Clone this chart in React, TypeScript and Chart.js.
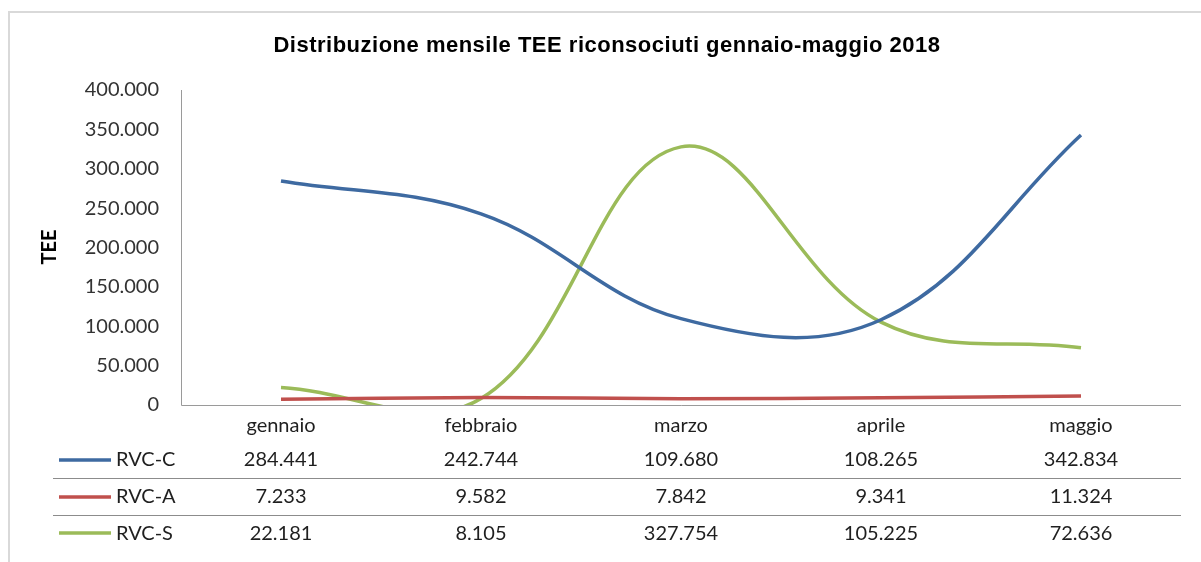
import React, { useEffect, useRef } from 'react';
import { Chart, registerables } from 'chart.js';

Chart.register(...registerables);

const title = 'Distribuzione mensile TEE riconsociuti gennaio-maggio 2018';
const yAxisTitle = 'TEE';
const categories = ['gennaio', 'febbraio', 'marzo', 'aprile', 'maggio'];
const seriesNames = ['RVC-C', 'RVC-A', 'RVC-S'];
const rvcC = [284441, 242744, 109680, 108265, 342834];
const rvcA = [7233, 9582, 7842, 9341, 11324];
const rvcS = [22181, 8105, 327754, 105225, 72636];
const seriesColors = ['#3e6aa1', '#c0504d', '#9bbb59'];
const yMin = 0;
const yMax = 400000;
const yStep = 50000;

const fmt = (v: number) => String(Math.round(v)).replace(/\B(?=(\d{3})+(?!\d))/g, '.');

export default function App() {
  const ref = useRef<HTMLCanvasElement>(null);

  useEffect(() => {
    const canvas = ref.current;
    if (!canvas) return;
    const allSeries = [rvcC, rvcA, rvcS];

    const decorPlugin = {
      id: 'excelDecor',
      afterDraw(chart: any) {
        const ctx = chart.ctx as CanvasRenderingContext2D;
        const xs = chart.scales.x;
        const area = chart.chartArea;
        ctx.save();

        // outer chart border
        ctx.strokeStyle = '#d9d9d9';
        ctx.lineWidth = 2;
        ctx.strokeRect(9, 12, 1400, 800);

        // title
        ctx.fillStyle = '#000';
        ctx.font = 'bold 22px "Liberation Sans", Arial, sans-serif';
        (ctx as any).letterSpacing = '0.5px';
        ctx.textAlign = 'center';
        ctx.textBaseline = 'alphabetic';
        ctx.fillText(title, 607, 52);
        (ctx as any).letterSpacing = '0px';

        // y axis title
        ctx.save();
        ctx.translate(50, 247);
        ctx.rotate(-Math.PI / 2);
        ctx.font = 'bold 20px Lato, sans-serif';
        ctx.fillStyle = '#000';
        ctx.textAlign = 'center';
        ctx.textBaseline = 'middle';
        ctx.fillText(yAxisTitle, 0, 0);
        ctx.restore();

        // axes
        ctx.strokeStyle = '#9a9a9a';
        ctx.lineWidth = 1;
        ctx.beginPath();
        ctx.moveTo(181.5, area.top);
        ctx.lineTo(181.5, area.bottom + 0.5);
        ctx.lineTo(area.right, area.bottom + 0.5);
        ctx.stroke();

        // table separators
        ctx.strokeStyle = '#8c8c8c';
        ctx.beginPath();
        ctx.moveTo(53, 478.5);
        ctx.lineTo(area.right, 478.5);
        ctx.moveTo(53, 515.5);
        ctx.lineTo(area.right, 515.5);
        ctx.stroke();

        // category labels
        ctx.font = '20px Lato, sans-serif';
        ctx.fillStyle = '#1f1f1f';
        ctx.textAlign = 'center';
        ctx.textBaseline = 'alphabetic';
        categories.forEach((c, i) => {
          ctx.fillText(c, xs.getPixelForValue(i), 432);
        });

        // rows
        const baselines = [466, 503, 540];
        const lineYs = [460, 497, 533];
        seriesNames.forEach((name, r) => {
          ctx.strokeStyle = seriesColors[r];
          ctx.lineWidth = 3.5;
          ctx.lineCap = 'butt';
          ctx.beginPath();
          ctx.moveTo(59, lineYs[r]);
          ctx.lineTo(111, lineYs[r]);
          ctx.stroke();
          ctx.fillStyle = '#1f1f1f';
          ctx.textAlign = 'left';
          ctx.fillText(name, 116, baselines[r]);
          ctx.textAlign = 'center';
          allSeries[r].forEach((v, i) => {
            ctx.fillText(fmt(v), xs.getPixelForValue(i), baselines[r]);
          });
        });

        ctx.restore();
      },
    };

    const chart = new Chart(canvas, {
      type: 'line',
      data: {
        labels: categories,
        datasets: seriesNames.map((name, r) => ({
          label: name,
          data: allSeries[r],
          borderColor: seriesColors[r],
          backgroundColor: seriesColors[r],
          borderWidth: 3.5,
          pointRadius: 0,
          pointHoverRadius: 0,
          tension: 0.38,
          fill: false,
          clip: 0,
        })),
      },
      options: {
        responsive: false,
        animation: false,
        events: [],
        layout: { padding: { top: 90, right: 20, left: 0, bottom: 0 } },
        elements: { line: { capBezierPoints: false } },
        plugins: {
          legend: { display: false },
          title: { display: false },
          tooltip: { enabled: false },
        },
        scales: {
          x: {
            type: 'category',
            offset: true,
            grid: { display: false, drawTicks: false },
            border: { display: false },
            ticks: { display: false },
            afterFit: (s: any) => {
              s.height = 157;
            },
          },
          y: {
            min: yMin,
            max: yMax,
            grid: { display: false, drawTicks: false },
            border: { display: false },
            ticks: {
              stepSize: yStep,
              padding: 22,
              color: '#333333',
              font: { family: 'Lato, sans-serif', size: 20 },
              callback: (v: any) => fmt(Number(v)),
            },
            afterFit: (s: any) => {
              s.width = 181;
            },
          },
        },
      },
      plugins: [decorPlugin],
    });

    return () => chart.destroy();
  }, []);

  return (
    <div style={{ position: 'fixed', left: 0, top: 0, width: 1201, height: 562, background: '#fff' }}>
      <canvas ref={ref} width={1201} height={562} style={{ display: 'block', width: 1201, height: 562 }} />
    </div>
  );
}
